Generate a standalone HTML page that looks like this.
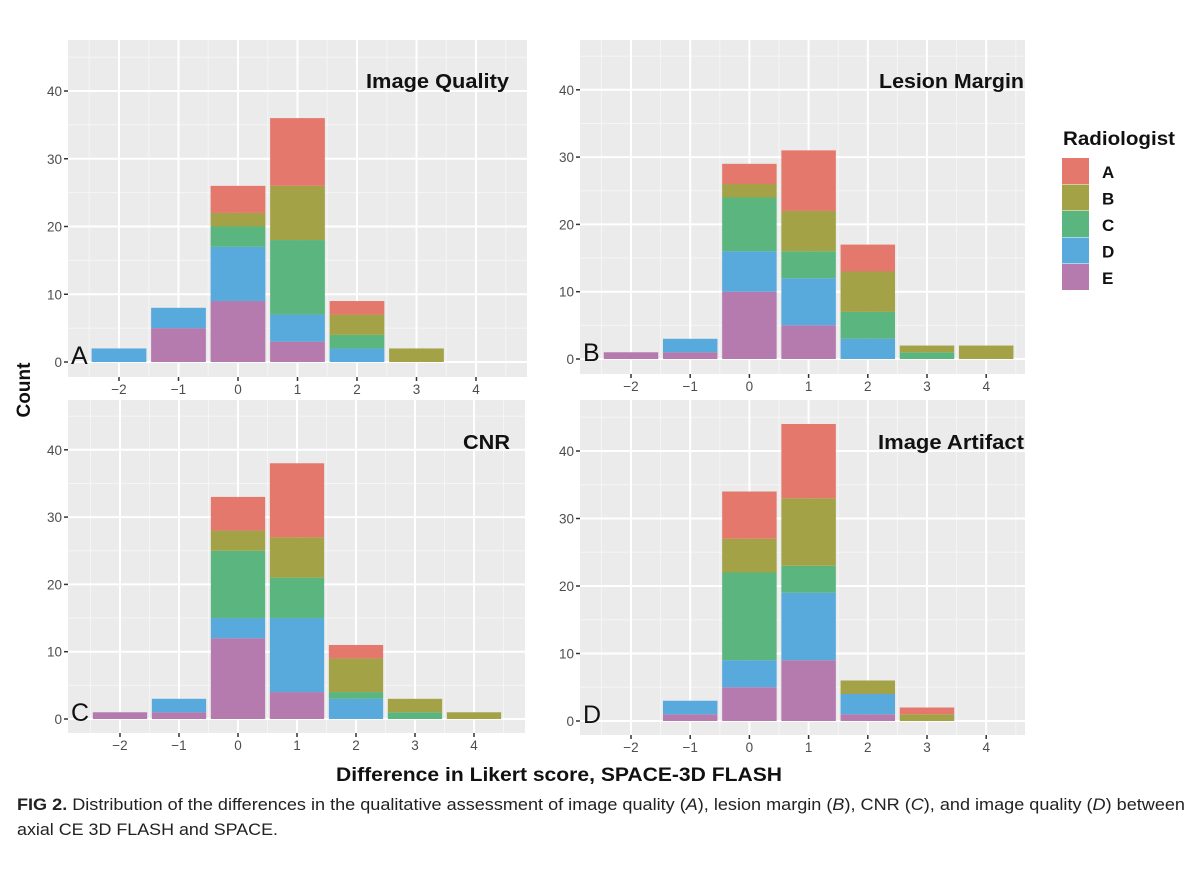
<!DOCTYPE html>
<html><head><meta charset="utf-8">
<style>
body{margin:0;background:#fff;}
svg{display:block;font-family:"Liberation Sans",sans-serif;}
</style></head>
<body>
<svg id="fig" width="1200" height="873" viewBox="0 0 1200 873">
<text x="30" y="390" transform="rotate(-90 30 390)" text-anchor="middle" font-size="19" font-weight="bold" fill="#111">Count</text>
<text x="336" y="781" textLength="446" lengthAdjust="spacingAndGlyphs" font-size="19" font-weight="bold" fill="#111">Difference in Likert score, SPACE-3D FLASH</text>
<text x="1063" y="145" textLength="112" lengthAdjust="spacingAndGlyphs" font-size="19" font-weight="bold" fill="#111">Radiologist</text>
<text x="17" y="810" textLength="1168" lengthAdjust="spacingAndGlyphs" font-size="17" fill="#222"><tspan font-weight="bold">FIG 2.</tspan>  Distribution of the differences in the qualitative assessment of image quality (<tspan font-style="italic">A</tspan>), lesion margin (<tspan font-style="italic">B</tspan>), CNR (<tspan font-style="italic">C</tspan>), and image quality (<tspan font-style="italic">D</tspan>) between</text>
<text x="17" y="835" textLength="261" lengthAdjust="spacingAndGlyphs" font-size="17" fill="#222">axial CE 3D FLASH and SPACE.</text>
</svg>
<script>
const categories = [-2,-1,0,1,2,3,4];
const raters = ["A","B","C","D","E"];
const colors = ["#E5786D","#A3A247","#5BB57F","#58A9DC","#B57AAE"];
const yTicks = [0,10,20,30,40];
const qualityA = [0,0,4,10,2,0,0];
const qualityB = [0,0,2,8,3,2,0];
const qualityC = [0,0,3,11,2,0,0];
const qualityD = [2,3,8,4,2,0,0];
const qualityE = [0,5,9,3,0,0,0];
const marginA = [0,0,3,9,4,0,0];
const marginB = [0,0,2,6,6,1,2];
const marginC = [0,0,8,4,4,1,0];
const marginD = [0,2,6,7,3,0,0];
const marginE = [1,1,10,5,0,0,0];
const cnrA = [0,0,5,11,2,0,0];
const cnrB = [0,0,3,6,5,2,1];
const cnrC = [0,0,10,6,1,1,0];
const cnrD = [0,2,3,11,3,0,0];
const cnrE = [1,1,12,4,0,0,0];
const artA = [0,0,7,11,0,1,0];
const artB = [0,0,5,10,2,1,0];
const artC = [0,0,13,4,0,0,0];
const artD = [0,2,4,10,3,0,0];
const artE = [0,1,5,9,1,0,0];

const panels = [
 {id:"a",title:"Image Quality",letter:"A",series:[qualityA,qualityB,qualityC,qualityD,qualityE],l:68,r:527,t:40,b:377,xm2:119,ux:59.5,y0:362,uy:6.775,ty:88,tx:366,tw:143},
 {id:"b",title:"Lesion Margin",letter:"B",series:[marginA,marginB,marginC,marginD,marginE],l:580,r:1025,t:40,b:374,xm2:631,ux:59.2,y0:359,uy:6.73,ty:88,tx:879,tw:145},
 {id:"c",title:"CNR",letter:"C",series:[cnrA,cnrB,cnrC,cnrD,cnrE],l:68,r:525,t:400,b:733,xm2:120,ux:59,y0:719,uy:6.73,ty:449,tx:463,tw:47},
 {id:"d",title:"Image Artifact",letter:"D",series:[artA,artB,artC,artD,artE],l:580,r:1025,t:400,b:735,xm2:631,ux:59.2,y0:721,uy:6.75,ty:449,tx:878,tw:146}
];
const NS="http://www.w3.org/2000/svg";
const svg=document.getElementById("fig");
function mk(tag,attrs,parent){const e=document.createElementNS(NS,tag);for(const k in attrs)e.setAttribute(k,attrs[k]);(parent||svg).appendChild(e);return e;}
panels.forEach(p=>{
 const g=mk("g",{});
 
 
 const xs=v=>p.xm2+(v+2)*p.ux;
 const ys=v=>p.y0-v*p.uy;
 const bg=mk("rect",{x:p.l,y:p.t,width:p.r-p.l,height:p.b-p.t,fill:"#EBEBEB"},g);
 
 
 for(let v=-2.5;v<=4.5;v+=1){mk("line",{x1:xs(v),x2:xs(v),y1:p.t,y2:p.b,stroke:"#F5F5F5","stroke-width":1},g);}
 for(let v=-5;v<=45;v+=10){const y=ys(v);if(y>p.t&&y<p.b)mk("line",{x1:p.l,x2:p.r,y1:y,y2:y,stroke:"#F5F5F5","stroke-width":1},g);}
 categories.forEach(c=>{mk("line",{x1:xs(c),x2:xs(c),y1:p.t,y2:p.b,stroke:"#fff","stroke-width":2},g);});
 yTicks.forEach(v=>{mk("line",{x1:p.l,x2:p.r,y1:ys(v),y2:ys(v),stroke:"#fff","stroke-width":2},g);});
 categories.forEach((c,i)=>{
  let cum=0;
  for(let s=4;s>=0;s--){
   const v=p.series[s][i]; if(!v) continue;
   const r=mk("rect",{x:xs(c)-p.ux*0.46,width:p.ux*0.92,y:ys(cum+v),height:v*p.uy,fill:colors[s]},g);
   
   
   cum+=v;
  }
 });
 yTicks.forEach(v=>{
  mk("line",{x1:p.l-4,x2:p.l,y1:ys(v),y2:ys(v),stroke:"#333","stroke-width":1.5},g);
  const t=mk("text",{x:p.l-6,y:ys(v)+5,"text-anchor":"end","font-size":13.5,fill:"#4D4D4D"},g);
  t.textContent=v;
  
  
 });
 categories.forEach(c=>{
  mk("line",{x1:xs(c),x2:xs(c),y1:p.b,y2:p.b+4,stroke:"#333","stroke-width":1.5},g);
  const t=mk("text",{x:xs(c),y:p.b+17,"text-anchor":"middle","font-size":13.5,fill:"#4D4D4D"},g);
  t.textContent=c<0?"\u2212"+(-c):c;
  
  
 });
 const tt=mk("text",{x:p.tx,y:p.ty,textLength:p.tw,lengthAdjust:"spacingAndGlyphs","font-size":20,"font-weight":"bold",fill:"#111"},g);
 tt.textContent=p.title;
 
 
 const lt=mk("text",{x:p.l+3,y:p.y0+2,"font-size":25,fill:"#111"},g);
 lt.textContent=p.letter;
 
 
});
raters.forEach((r,i)=>{
 const k=mk("rect",{x:1062,y:158+i*26.5,width:27,height:26,fill:colors[i]});
 
 
 const t=mk("text",{x:1102,y:178+i*26.5,"font-size":17,"font-weight":"bold",fill:"#111"});
 t.textContent=r;
 
 
});
</script>
</body></html>
